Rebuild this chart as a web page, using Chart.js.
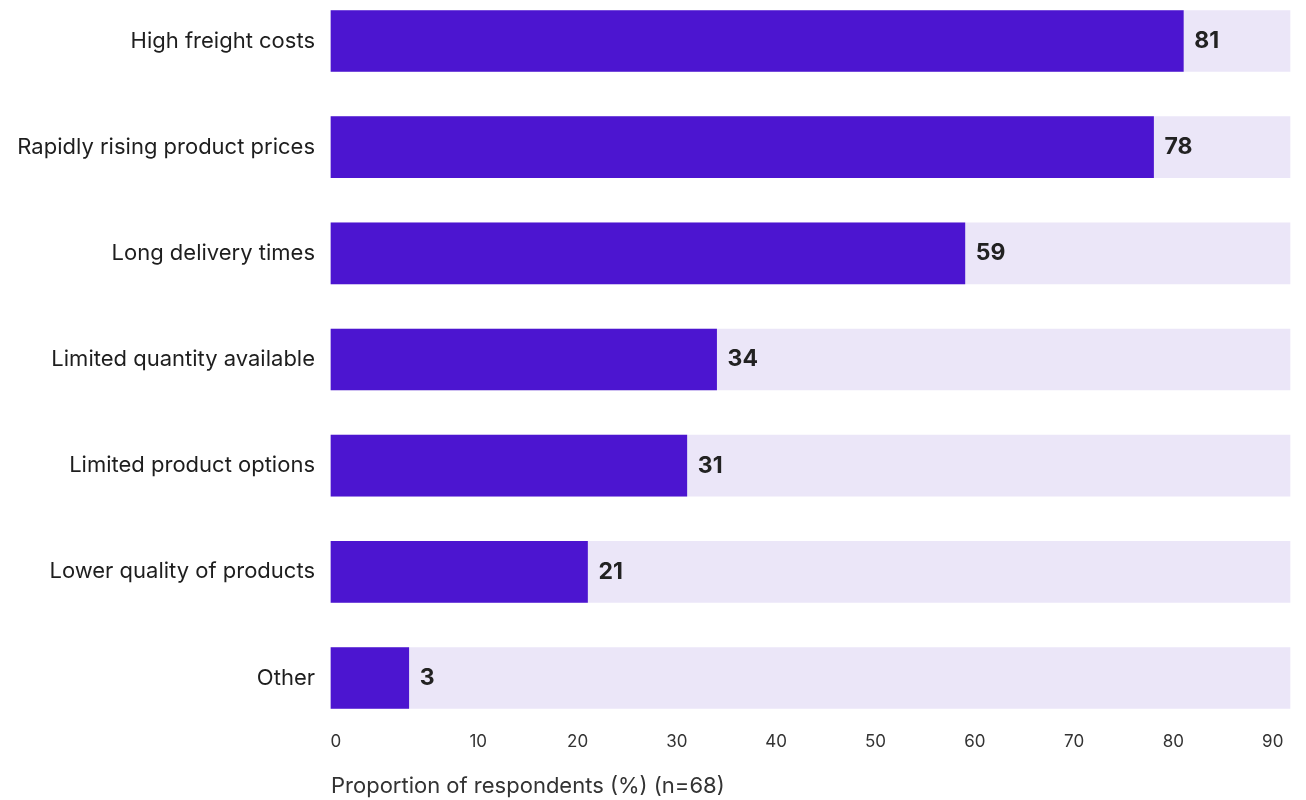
<!DOCTYPE html>
<html>
<head>
<meta charset="utf-8">
<script src="https://cdn.jsdelivr.net/npm/chart.js@4"></script>
<style>
    body { margin: 0; background: #ffffff; }
    #wrap { width: 1306px; height: 800px; }
</style>
</head>
<body>
<div id="wrap"><canvas id="freightChart" width="1306" height="800"></canvas></div>
<script>
// Data
const categories = [
    'High freight costs',
    'Rapidly rising product prices',
    'Long delivery times',
    'Limited quantity available',
    'Limited product options',
    'Lower quality of products',
    'Other'
];
const values = [81, 78, 59, 34, 31, 21, 3];
const xTickValues = [10, 20, 30, 40, 50, 60, 70, 80, 90];
const axisTitle = 'Proportion of respondents (%) (n=68)';

// Axis range: the bars start a little left of zero, the track runs past 90
const X_MIN = -4.83;
const X_MAX = 91.74;
const ZERO_LABEL_AT = X_MIN + 0.5;

const barColor = '#4c15d0';
const trackColor = '#ebe6f8';
const textColor = '#1e1e1e';
const fontFamily = 'Inter, "Liberation Sans", Arial, sans-serif';

/**
 * Draw the bold value next to the end of each bar
 */
const valueLabels = {
    id: 'valueLabels',
    afterDatasetsDraw(chart) {
        const meta = chart.getDatasetMeta(0);
        const ctx = chart.ctx;
        ctx.save();
        ctx.font = 'bold 23px ' + fontFamily;
        ctx.fillStyle = '#222222';
        ctx.textAlign = 'left';
        ctx.textBaseline = 'middle';
        meta.data.forEach((bar, i) => {
            // floating bars may swap x and base, so take the right-hand end
            const end = Math.max(bar.x, bar.base);
            ctx.fillText(String(values[i]), end + 11, bar.y);
        });
        ctx.restore();
    }
};

const ctx = document.getElementById('freightChart').getContext('2d');

new Chart(ctx, {
    type: 'bar',
    data: {
        labels: categories,
        datasets: [
            {
                data: values.map(v => [X_MIN, v]),
                backgroundColor: barColor,
                borderWidth: 0,
                barThickness: 61,
                grouped: false,
                clip: false,
                order: 0
            },
            {
                data: categories.map(() => [X_MIN, X_MAX]),
                backgroundColor: trackColor,
                borderWidth: 0,
                barThickness: 61,
                grouped: false,
                clip: false,
                order: 1
            }
        ]
    },
    options: {
        indexAxis: 'y',
        responsive: false,
        animation: false,
        layout: {
            padding: { top: 41, right: 16, bottom: 0, left: 0 }
        },
        plugins: {
            legend: { display: false },
            tooltip: { enabled: false }
        },
        scales: {
            y: {
                offset: false,
                grid: { display: false, drawTicks: false },
                border: { display: false },
                ticks: {
                    padding: 16,
                    color: textColor,
                    font: { family: fontFamily, size: 22 }
                },
                afterFit: (scale) => { scale.width = 331; }
            },
            x: {
                min: X_MIN,
                max: X_MAX,
                grid: { display: false, drawTicks: false },
                border: { display: false },
                afterBuildTicks: (scale) => {
                    scale.ticks = [ZERO_LABEL_AT].concat(xTickValues).map(v => ({ value: v }));
                },
                ticks: {
                    autoSkip: false,
                    maxRotation: 0,
                    padding: 54,
                    color: '#333333',
                    font: { family: fontFamily, size: 17 },
                    callback: (value) => value < 0 ? '0' : String(value)
                },
                title: {
                    display: true,
                    text: axisTitle,
                    align: 'start',
                    color: '#333333',
                    font: { family: fontFamily, size: 22 },
                    padding: { top: 0, bottom: 0 }
                },
                afterFit: (scale) => {
                    scale.height = 122;
                    scale.paddingLeft = 0;
                    scale.paddingRight = 0;
                }
            }
        }
    },
    plugins: [valueLabels]
});
</script>
</body>
</html>
